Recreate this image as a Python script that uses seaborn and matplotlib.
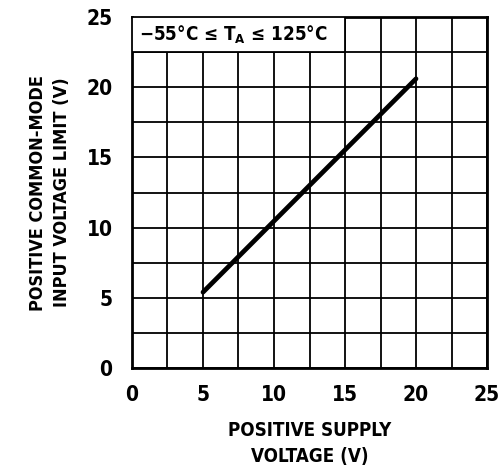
import matplotlib
matplotlib.use("Agg")
import matplotlib.pyplot as plt
from matplotlib.patches import Rectangle
from matplotlib.ticker import MultipleLocator
import pandas as pd
import seaborn as sns

# data
supply_v = [5, 20]
cm_limit = [5.4, 20.6]

x_ticks = [0, 5, 10, 15, 20, 25]
y_ticks = [0, 5, 10, 15, 20, 25]

sns.set_style("white")
plt.rcParams['font.family'] = ['DejaVu Sans']
plt.rcParams['font.stretch'] = 'condensed'
plt.rcParams['font.weight'] = 'bold'
plt.rcParams['mathtext.default'] = 'regular'
plt.rcParams['text.color'] = 'black'
plt.rcParams['axes.labelcolor'] = 'black'
plt.rcParams['xtick.color'] = 'black'
plt.rcParams['ytick.color'] = 'black'

df = pd.DataFrame({"supply": supply_v, "limit": cm_limit})

fig = plt.figure(figsize=(4.99, 4.72), dpi=100)
ax = fig.add_axes([0.2645, 0.2203, 0.7115, 0.7437])

sns.lineplot(data=df, x="supply", y="limit", color="black", linewidth=3.4, ax=ax, zorder=5)

ax.set_xlim(0, 25)
ax.set_ylim(0, 25)
ax.set_xticks(x_ticks)
ax.set_yticks(y_ticks)
ax.xaxis.set_minor_locator(MultipleLocator(2.5))
ax.yaxis.set_minor_locator(MultipleLocator(2.5))
ax.grid(True, which="both", color="black", linewidth=1.3)
ax.set_axisbelow(True)
ax.tick_params(which="both", length=0, labelsize=15)
ax.tick_params(axis="x", pad=12)
ax.tick_params(axis="y", pad=14)
for lbl in ax.get_xticklabels() + ax.get_yticklabels():
    lbl.set_fontweight("bold")
    lbl.set_fontstretch("condensed")
for s in ax.spines.values():
    s.set_color("black")
    s.set_linewidth(2)

# condition box in the top left
ax.add_patch(Rectangle((0, 22.5), 15, 2.5, facecolor="white", edgecolor="black",
                       linewidth=1.3, zorder=3))
ax.text(0.5, 23.75, "$-$55°C ≤ T$_{A}$ ≤ 125°C", fontsize=13.5, fontweight="bold",
        fontstretch="condensed", va="center", ha="left", zorder=4)

ax.set_xlabel("POSITIVE SUPPLY\nVOLTAGE (V)", fontsize=13.5, fontweight="bold",
              fontstretch="condensed", labelpad=12, linespacing=1.45)
ax.set_ylabel("POSITIVE COMMON-MODE\nINPUT VOLTAGE LIMIT (V)", fontsize=13, fontweight="bold",
              fontstretch="condensed", labelpad=11, linespacing=1.45)

fig.savefig("out.png", dpi=100)
